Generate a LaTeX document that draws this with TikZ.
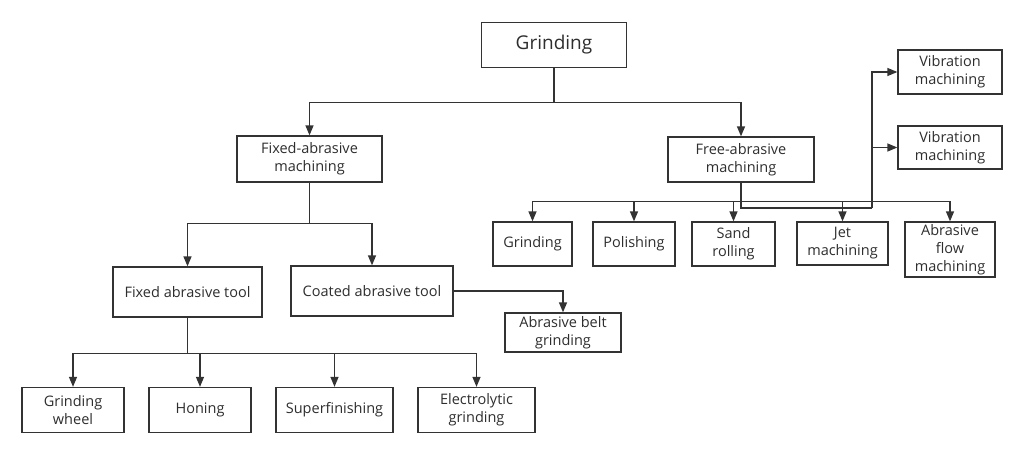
\documentclass[tikz,border=0pt]{standalone}
\usepackage{fontspec}
\setmainfont{Open Sans}
\usetikzlibrary{arrows.meta}

\begin{document}
\begin{tikzpicture}[x = {(1pt,0pt)},
    y = {(0pt,-1pt)},
    color = {black!80},
    line width = 1.3pt]
    % styles of boxes and arrows
    \tikzset{box/.style={draw,rectangle,fill=white,align=center,inner sep=1pt,
        font=\fontsize{14.5}{18}\selectfont,text=black!82},
      arr/.style={-{Triangle[length=10pt,width=8pt]}}}
    \useasboundingbox (0,0) rectangle (1024,455);
    % top
    \node[box,minimum width=145,minimum height=45,font=\fontsize{19}{22}\selectfont]
      (grind) at (554,45) {Grinding};
    % second level
    \node[box,minimum width=145,minimum height=46] (fixm) at (309.5,159) {Fixed-abrasive\\machining};
    \node[box,minimum width=146,minimum height=45] (freem) at (741,159.5) {Free-abrasive\\machining};
    % fixed branch
    \node[box,minimum width=149,minimum height=50] (fixtool) at (187.5,292) {Fixed abrasive tool};
    \node[box,minimum width=162,minimum height=50] (coattool) at (372,291) {Coated abrasive tool};
    \node[box,minimum width=116,minimum height=39] (belt) at (563,332.5) {Abrasive belt\\grinding};
    \node[box,minimum width=102,minimum height=45] (wheel) at (73,410) {Grinding\\wheel};
    \node[box,minimum width=102,minimum height=45] (honing) at (200,410) {Honing};
    \node[box,minimum width=117,minimum height=45] (superfin) at (334.5,410) {Superfinishing};
    \node[box,minimum width=117,minimum height=45] (electro) at (476.5,410) {Electrolytic\\grinding};
    % free branch
    \node[box,minimum width=79,minimum height=44] (fgrind) at (532.5,244) {Grinding};
    \node[box,minimum width=82,minimum height=44] (polish) at (634,244) {Polishing};
    \node[box,minimum width=83,minimum height=44] (sand) at (733.5,244) {Sand\\rolling};
    \node[box,minimum width=91,minimum height=43] (jet) at (842.5,243.5) {Jet\\machining};
    \node[box,minimum width=90,minimum height=55] (flow) at (950,249.5) {Abrasive\\flow\\machining};
    \node[box,minimum width=104,minimum height=44] (vibra) at (950,72) {Vibration\\machining};
    \node[box,minimum width=104,minimum height=43] (vibrb) at (950,147.5) {Vibration\\machining};
    % junctions
    \path (grind.south) ++(0,34) coordinate (jtop);
    \path (fixm.south) ++(0,41) coordinate (jfix);
    \path (fixtool.south) ++(0,36) coordinate (jtool);
    \path (freem.south) ++(0,19) coordinate (jfree);
    \coordinate (jvib) at (872,208);
    % connectors
    \draw (grind.south) -- (jtop);
    \draw[arr] (jtop) -| (fixm.north);
    \draw[arr] (jtop) -| (freem.north);
    \draw (fixm.south) -- (jfix);
    \draw[arr] (jfix) -| (fixtool.north);
    \draw[arr] (jfix) -| (coattool.north);
    \draw[arr] (coattool.east) -| (belt.north);
    \draw (fixtool.south) -- (jtool);
    \foreach \n in {wheel,honing,superfin,electro}
      \draw[arr] (jtool) -| (\n.north);
    \foreach \n in {fgrind,polish,sand,jet,flow}
      \draw[arr] (jfree) -| (\n.north);
    \draw (freem.south) |- (jvib);
    \draw[arr] (jvib) |- (vibra.west);
    \draw[arr] (jvib) |- (vibrb.west);
\end{tikzpicture}
\end{document}
